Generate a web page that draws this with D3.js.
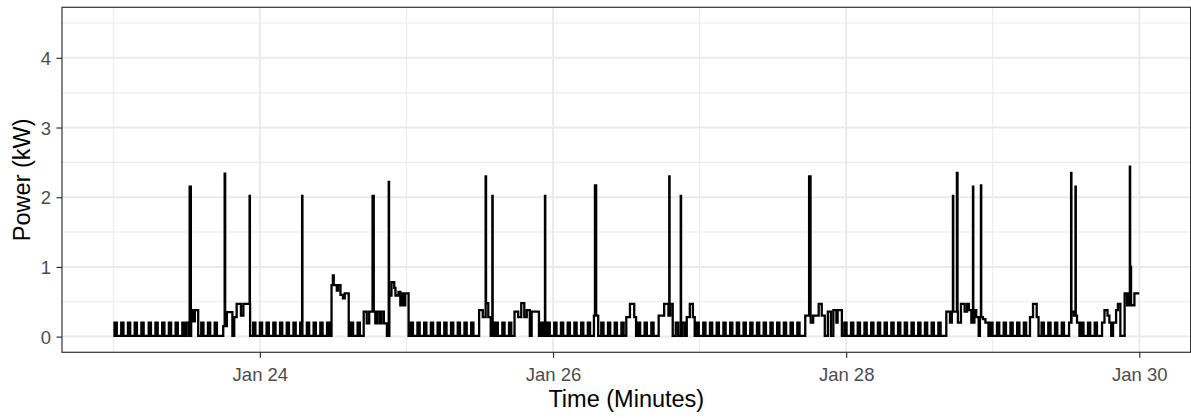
<!DOCTYPE html>
<html>
<head>
<meta charset="utf-8">
<script src="https://cdn.jsdelivr.net/npm/d3@7"></script>
<style>
  body { margin: 0; background: #fff; }
  svg { display: block; }
  text { font-family: "Liberation Sans", Arial, sans-serif; }
</style>
</head>
<body>
<svg id="chart" width="1191" height="418"></svg>
<script>
// ---------------- DATA (hours since Jan 23 00:00) ----------------
const seriesStart = Date.UTC(2021, 0, 23, 0, 0);
const seriesHours = 168;
const xTickDays = [24, 26, 28, 30];
const xTickLabels = ["Jan 24", "Jan 26", "Jan 28", "Jan 30"];
const xMinorDays = [23, 25, 27, 29];
const yTicks = [0, 1, 2, 3, 4];
const yTickLabels = ["0", "1", "2", "3", "4"];
const yMinor = [0.5, 1.5, 2.5, 3.5, 4.5];
const yLimits = [0, 4.5];

// fridge-like background cycling: levels (kW) and on-times (hours)
const offLevel = 0.01;
const onLevel = 0.2;
const cycleMinutes = 22;
const cycleOn = [
  0.2, 1.3, 2.4, 3.5, 4.6, 5.8, 6.9, 8.0, 9.1, 10.2, 11.3,
  14.4, 15.5, 16.6,
  22.9, 24.0, 25.1, 26.2, 27.3, 28.4, 29.5, 30.6, 31.7, 32.8, 33.9, 35.0,
  38.9, 40.0,
  48.7, 49.8, 50.9, 52.0, 53.1, 54.2, 55.3, 56.4, 57.5, 58.6,
  62.6, 63.7, 64.8,
  70.0, 71.1, 72.2, 73.3, 74.4, 75.5, 76.6, 77.7, 78.8, 79.9, 81.0, 82.1, 83.2,
  85.9, 87.0, 88.1,
  95.5, 96.6, 97.7, 98.8, 99.9, 101.0, 102.1, 103.2, 104.3, 105.4, 106.5, 107.6, 108.7, 109.8, 110.9, 112.0,
  119.7, 120.8, 121.9, 123.0, 124.1, 125.2, 126.3, 127.4, 128.5, 129.6, 130.7, 131.8, 132.9, 134.0, 135.1,
  143.6, 144.7, 145.8, 146.9, 148.0, 149.1,
  152.0, 153.1, 154.2, 155.3,
  158.5, 159.6, 160.7
];

// activity episodes: [hour, kW] step points; last entry = end hour
const episode1 = [[12.0,0.2],[12.4,0.01],[12.75,0.38],[13.1,0.22],[13.35,0.38],[13.9,0.01],[14.1]];
const episode2 = [[18.0,0.15],[18.6,0.35],[19.5,0.01],[19.8,0.28],[20.2,0.47],[20.9,0.3],[21.3,0.47],[22.4,0.01],[22.6]];
const episode3 = [[35.73,0.74],[35.95,0.88],[36.1,0.74],[36.6,0.66],[36.8,0.74],[37.2,0.6],[37.6,0.55],[37.9,0.62],[38.55]];
const episode4 = [[41.0,0.36],[41.5,0.19],[41.9,0.36],[42.9,0.19],[43.2,0.36],[43.6,0.19],[43.9,0.36],[44.3,0.19],[44.8,0.01],
                  [45.2,0.59],[45.55,0.78],[46.0,0.7],[46.2,0.59],[46.7,0.64],[47.0,0.45],[47.3,0.62],[47.6,0.45],[47.8,0.62],[48.35]];
const episode5 = [[59.9,0.38],[60.5,0.28],[61.0,0.48],[61.4,0.28],[61.8,0.01],[62.2,0.2],[62.45]];
const episode6 = [[65.7,0.36],[66.3,0.28],[66.8,0.48],[67.3,0.28],[67.7,0.38],[68.2,0.01],[68.5,0.36],[69.7]];
const episode7 = [[78.7,0.3],[79.4]];
const episode8 = [[84.0,0.28],[84.6,0.47],[85.3,0.28],[85.6]];
const episode9 = [[89.3,0.3],[90.2,0.47],[90.9,0.3],[91.2,0.47],[91.6,0.01],[92.1,0.2],[92.5,0.01],[93.2,0.2],[93.6,0.01],
                  [93.9,0.28],[94.4,0.47],[94.9,0.28],[95.2]];
const episode10 = [[113.3,0.3],[114.2,0.2],[114.6,0.3],[115.5,0.47],[116.0,0.3],[116.5,0.01],[117.0,0.36],[117.5,0.01],
                   [117.9,0.38],[118.4,0.2],[118.6,0.38],[119.3]];
const episode11 = [[136.4,0.36],[137.0,0.2],[137.3,0.36],[138.3,0.2],[138.8,0.47],[139.4,0.36],[139.8,0.47],[140.1,0.38],
                   [140.5,0.2],[141.0,0.38],[141.3,0.28],[141.7,0.01],[141.9,0.28],[142.4,0.25],[142.8,0.2],[143.3]];
const episode12 = [[150.1,0.28],[150.6,0.47],[151.2,0.28],[151.5]];
const episode13 = [[156.5,0.2],[156.9,0.36],[157.3,0.3],[157.8,0.2],[158.2]];
const episode14 = [[161.9,0.2],[162.3,0.38],[162.8,0.3],[163.1,0.2],[163.4,0.01],[163.7,0.2],[164.2,0.38],[164.5,0.47],
                   [164.9,0.01],[165.6,0.62],[166.0,0.45],[166.3,0.62],[166.6,0.45],[167.2,0.62],[168.0]];

// short high-power spikes: [hour, kW, minutes]
const spikes = [
  [12.5, 2.15, 12], [18.23, 2.34, 5], [22.32, 2.02, 3], [30.92, 2.02, 3],
  [42.45, 2.02, 12], [45.1, 2.22, 3], [60.97, 2.30, 4], [62.07, 2.02, 3],
  [70.68, 2.02, 3], [78.86, 2.17, 12], [91.03, 2.30, 3], [92.92, 2.02, 3],
  [113.93, 2.30, 14], [137.49, 2.02, 3], [138.14, 2.35, 6], [140.76, 2.15, 3],
  [142.07, 2.17, 3], [156.84, 2.35, 3], [157.55, 2.15, 3], [166.55, 1.0, 6],
  [166.45, 2.44, 3]
];

// ---------------- BUILD SERIES ----------------
const episodes = [episode1, episode2, episode3, episode4, episode5, episode6, episode7,
                  episode8, episode9, episode10, episode11, episode12, episode13, episode14];
const nMin = seriesHours * 60;
const vals = new Array(nMin).fill(offLevel);
cycleOn.forEach(h => {
  const a = Math.round(h * 60), b = Math.min(nMin, a + cycleMinutes);
  for (let m = a; m < b; m++) vals[m] = onLevel;
});
episodes.forEach(ep => {
  for (let i = 0; i < ep.length - 1; i++) {
    const a = Math.round(ep[i][0] * 60), b = Math.min(nMin, Math.round(ep[i + 1][0] * 60));
    for (let m = a; m < b; m++) vals[m] = ep[i][1];
  }
});
spikes.forEach(([h, kw, dur]) => {
  const a = Math.round(h * 60), b = Math.min(nMin, a + dur);
  for (let m = a; m < b; m++) vals[m] = kw;
});
const series = [];
for (let m = 0; m < nMin; m++) {
  if (m === 0 || vals[m] !== vals[m - 1]) series.push({ t: new Date(seriesStart + m * 60000), v: vals[m] });
}
series.push({ t: new Date(seriesStart + nMin * 60000), v: vals[nMin - 1] });

// ---------------- CHART ----------------
const svg = d3.select("#chart");
const panel = { left: 62, top: 7.3, right: 1190.6, bottom: 352.3 };

const t0 = new Date(seriesStart), t1 = new Date(seriesStart + seriesHours * 3600000);
const span = t1 - t0;
const x = d3.scaleUtc()
  .domain([new Date(+t0 - span * 0.05), new Date(+t1 + span * 0.05)])
  .range([panel.left, panel.right]);
const yr = yLimits[1] - yLimits[0];
const y = d3.scaleLinear()
  .domain([yLimits[0] - yr * 0.05, yLimits[1] + yr * 0.05])
  .range([panel.bottom, panel.top]);

const dayDate = d => new Date(Date.UTC(2021, 0, d));

// grid
const g = svg.append("g");
g.selectAll(".ymin").data(yMinor).join("line")
  .attr("x1", panel.left).attr("x2", panel.right)
  .attr("y1", d => y(d)).attr("y2", d => y(d))
  .attr("stroke", "#ebebeb").attr("stroke-width", 1.1);
g.selectAll(".xmin").data(xMinorDays).join("line")
  .attr("y1", panel.top).attr("y2", panel.bottom)
  .attr("x1", d => x(dayDate(d))).attr("x2", d => x(dayDate(d)))
  .attr("stroke", "#ebebeb").attr("stroke-width", 1.1);
g.selectAll(".ymaj").data(yTicks).join("line")
  .attr("x1", panel.left).attr("x2", panel.right)
  .attr("y1", d => y(d)).attr("y2", d => y(d))
  .attr("stroke", "#ebebeb").attr("stroke-width", 2);
g.selectAll(".xmaj").data(xTickDays).join("line")
  .attr("y1", panel.top).attr("y2", panel.bottom)
  .attr("x1", d => x(dayDate(d))).attr("x2", d => x(dayDate(d)))
  .attr("stroke", "#ebebeb").attr("stroke-width", 2);

// line
const line = d3.line().x(d => x(d.t)).y(d => y(d.v)).curve(d3.curveStepAfter);
svg.append("path").datum(series)
  .attr("d", line).attr("fill", "none")
  .attr("stroke", "#000").attr("stroke-width", 2.3)
  .attr("stroke-linejoin", "miter");

// panel border
svg.append("rect")
  .attr("x", panel.left).attr("y", panel.top)
  .attr("width", panel.right - panel.left).attr("height", panel.bottom - panel.top)
  .attr("fill", "none").attr("stroke", "#333").attr("stroke-width", 1.2);

// axes
const xAxis = d3.axisBottom(x)
  .tickValues(xTickDays.map(dayDate))
  .tickFormat((d, i) => xTickLabels[i])
  .tickSize(5.5).tickPadding(4);
const gx = svg.append("g").attr("transform", `translate(0,${panel.bottom})`).call(xAxis);
gx.select(".domain").remove();
gx.selectAll(".tick line").attr("stroke", "#333").attr("stroke-width", 1.2);
gx.selectAll(".tick text").attr("fill", "#4d4d4d").attr("font-size", 18.5)
  .attr("font-family", "Liberation Sans, Arial, sans-serif")
  .attr("dy", null).attr("y", 28.9);

const yAxis = d3.axisLeft(y)
  .tickValues(yTicks)
  .tickFormat((d, i) => yTickLabels[i])
  .tickSize(5.5).tickPadding(4);
const gy = svg.append("g").attr("transform", `translate(${panel.left},0)`).call(yAxis);
gy.select(".domain").remove();
gy.selectAll(".tick line").attr("stroke", "#333").attr("stroke-width", 1.2);
gy.selectAll(".tick text").attr("fill", "#4d4d4d").attr("font-size", 18.5)
  .attr("font-family", "Liberation Sans, Arial, sans-serif")
  .attr("x", -11).attr("dy", "0.35em");

// titles
svg.append("text")
  .attr("x", (panel.left + panel.right) / 2).attr("y", 407)
  .attr("text-anchor", "middle").attr("font-size", 23.5).attr("fill", "#000")
  .text("Time (Minutes)");
svg.append("text")
  .attr("transform", `translate(30,${(panel.top + panel.bottom) / 2}) rotate(-90)`)
  .attr("text-anchor", "middle").attr("font-size", 23.5).attr("fill", "#000")
  .text("Power (kW)");
</script>
</body>
</html>
